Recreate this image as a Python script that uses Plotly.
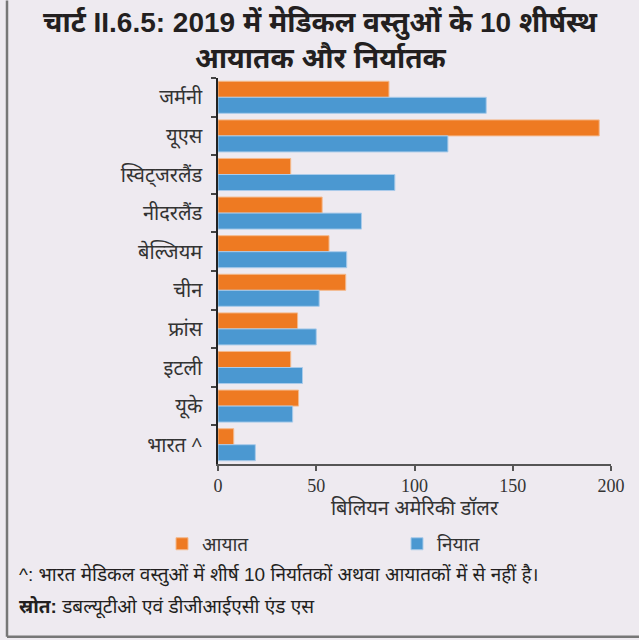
import plotly.graph_objects as go

# Data (billion US dollars), 2019
countries = ["जर्मनी", "यूएस", "स्विट्जरलैंड", "नीदरलैंड", "बेल्जियम",
             "चीन", "फ्रांस", "इटली", "यूके", "भारत ^"]
imports = [87, 194, 37, 53, 56.5, 65, 40.5, 37, 41, 8]
exports = [136.5, 117, 90, 73, 65.5, 51.5, 50, 43, 38, 19]
x_ticks = [0, 50, 100, 150, 200]

W, H = 639, 640
L, R, T, B = 218, 28, 77.5, 176
pw, ph = W - L - R, H - T - B


def px_x(p):
    return (p - L) / pw


def px_y(p):
    return (H - B - p) / ph


BG = "#EEEAF0"
ORANGE = "#EE7A22"
BLUE = "#4B98D1"
INK = "#231F20"
DEVA = "Noto Sans Devanagari, Lohit Devanagari, Noto Sans, sans-serif"
NARROW = "Liberation Sans Narrow, Arial Narrow, Liberation Sans, Arial, " + DEVA

fig = go.Figure()
fig.add_trace(go.Bar(
    y=countries, x=imports, name="आयात", orientation="h",
    marker=dict(color=ORANGE, line=dict(color="#F4B98C", width=1)),
))
fig.add_trace(go.Bar(
    y=countries, x=exports, name="नियात", orientation="h",
    marker=dict(color=BLUE, line=dict(color="#A9CBEA", width=1)),
))

fig.update_layout(
    width=W, height=H,
    margin=dict(l=L, r=R, t=T, b=B),
    paper_bgcolor=BG, plot_bgcolor=BG,
    barmode="group", bargap=0.17, bargroupgap=0,
    showlegend=True,
    legend=dict(
        orientation="h", x=px_x(162), y=px_y(544), xanchor="left", yanchor="middle",
        entrywidth=190, entrywidthmode="pixels", traceorder="normal",
        font=dict(family=NARROW, size=19, color="#333333"),
        bgcolor="rgba(0,0,0,0)", itemwidth=30, tracegroupgap=0,
    ),
    xaxis=dict(
        range=[0, 200], tickvals=x_ticks, ticktext=[str(v) for v in x_ticks],
        showgrid=False, zeroline=False,
        showline=True, linecolor="#555555", linewidth=1.5,
        ticks="outside", ticklen=5, tickcolor="#555555", tickwidth=1.5,
        tickfont=dict(family="Liberation Serif, DejaVu Serif, serif", size=18, color="#333333"),
        title=dict(text="बिलियन अमेरिकी डॉलर", standoff=4,
                   font=dict(family=DEVA, size=20, color="#333333")),
    ),
    yaxis=dict(
        autorange="reversed", tickson="boundaries",
        showgrid=False, zeroline=False,
        showline=True, linecolor="#222222", linewidth=1.5,
        ticks="outside", ticklen=5, tickcolor="#444444", tickwidth=1.5,
        tickfont=dict(family=DEVA, size=20, color="#333333"),
        ticklabelstandoff=10,
    ),
)

# two-line chart heading
fig.add_annotation(
    text="<b>चार्ट II.6.5: 2019 में मेडिकल वस्तुओं के 10 शीर्षस्थ</b>",
    xref="paper", yref="paper", x=px_x(320), y=px_y(22),
    xanchor="center", yanchor="middle", showarrow=False,
    font=dict(family=NARROW, size=28, color=INK),
)
fig.add_annotation(
    text="<b>आयातक और निर्यातक</b>",
    xref="paper", yref="paper", x=px_x(321), y=px_y(57),
    xanchor="center", yanchor="middle", showarrow=False,
    font=dict(family=NARROW, size=28, color=INK),
)

fig.add_annotation(
    text="^: भारत मेडिकल वस्तुओं में शीर्ष 10 निर्यातकों अथवा आयातकों में से नहीं है।",
    xref="paper", yref="paper", x=px_x(17), y=px_y(575),
    xanchor="left", yanchor="middle", showarrow=False,
    font=dict(family=NARROW, size=19, color=INK),
)
fig.add_annotation(
    text="<b>स्रोत:</b> डबल्यूटीओ एवं डीजीआईएसी एंड एस",
    xref="paper", yref="paper", x=px_x(17), y=px_y(607),
    xanchor="left", yanchor="middle", showarrow=False,
    font=dict(family=NARROW, size=19, color=INK),
)

# frame lines on the left and bottom edges of the panel
fig.add_shape(type="line", xref="paper", yref="paper",
              x0=px_x(7), x1=px_x(7), y0=px_y(0), y1=px_y(637),
              line=dict(color="#777777", width=2.5))
fig.add_shape(type="line", xref="paper", yref="paper",
              x0=px_x(7), x1=px_x(639), y0=px_y(637), y1=px_y(637),
              line=dict(color="#777777", width=2.5))

fig.write_html("out.html")
